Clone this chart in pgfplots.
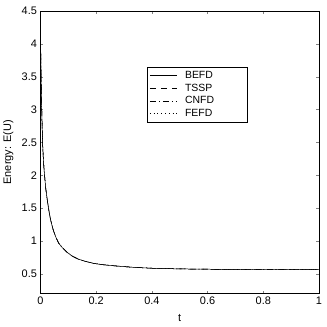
\documentclass[border=0pt]{standalone}
\usepackage{pgfplots}
\pgfplotsset{compat=1.18}
\usepackage{fontspec}
\setmainfont{Liberation Sans}
\begin{document}
\begin{tikzpicture}
\pgfplotstableread{
t E
0 4.18
0.002 3.6
0.004 3.1
0.006 2.75
0.0083 2.43
0.011 2.2
0.0143 2.02
0.019 1.8
0.024 1.64
0.03 1.47
0.036 1.33
0.045 1.18
0.054 1.07
0.065 0.97
0.078 0.90
0.095 0.83
0.114 0.77
0.135 0.725
0.161 0.69
0.19 0.66
0.221 0.64
0.27 0.62
0.33 0.60
0.4 0.585
0.5 0.575
0.6 0.57
0.7 0.567
0.8 0.565
0.9 0.564
1 0.563
}\energy
\begin{axis}[
  scale only axis,
  width=279bp, height=283bp,
  xmin=0, xmax=1, ymin=0.2, ymax=4.5,
  xtick={0,0.2,0.4,0.6,0.8,1},
  ytick={0.5,1,1.5,2,2.5,3,3.5,4,4.5},
  tick align=inside,
  major tick length=3pt,
  tick label style={font=\fontsize{11}{12}\selectfont},
  label style={font=\fontsize{11}{12}\selectfont},
  /pgf/number format/assume math mode=true,
  xlabel={t}, ylabel={Energy: E(U)},
  xlabel style={at={(axis description cs:0.5,-0.085)}, anchor=center},
  ylabel style={at={(axis description cs:-0.115,0.5)}, anchor=center},
  legend style={at={(0.384,0.802)}, anchor=north west, font=\fontsize{10.5}{11.5}\selectfont, draw=black, inner sep=2pt, row sep=0pt,
    nodes={text width=58bp}},
  legend image code/.code={\draw[#1] (3bp,0bp) -- (30bp,0bp); \path (36bp,0bp);},
  legend cell align=left,
  every axis plot/.append style={line width=0.5pt, black},
]
\addplot[black, solid] table[x=t,y=E] {\energy};
\addplot[black, dash pattern=on 6bp off 5bp] table[x=t,y=E] {\energy};
\addplot[black, dash pattern=on 6bp off 3bp on 1bp off 3bp] table[x=t,y=E] {\energy};
\addplot[black, dash pattern=on 0.8bp off 3bp] table[x=t,y=E] {\energy};
\legend{BEFD,TSSP,CNFD,FEFD}
\end{axis}
\path ([shift={(-40bp,-33bp)}]current axis.south west) rectangle ([shift={(8bp,11bp)}]current axis.north east);
\end{tikzpicture}
\end{document}
